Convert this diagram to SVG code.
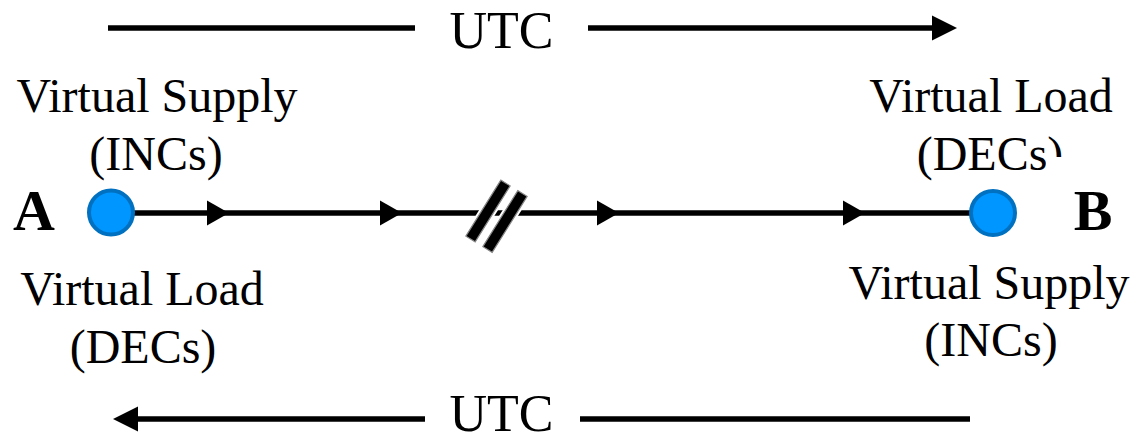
<svg xmlns="http://www.w3.org/2000/svg" xmlns:xlink="http://www.w3.org/1999/xlink" width="1137" height="435" viewBox="0 0 1137 435">
<style>
.lbl{font-family:"Liberation Serif","Times New Roman",serif;font-size:48px;fill:#000;text-anchor:middle}
.utc{font-family:"Liberation Serif","Times New Roman",serif;font-size:52px;fill:#000;text-anchor:middle}
.end{font-family:"Liberation Serif","Times New Roman",serif;font-size:58px;font-weight:bold;fill:#000;text-anchor:middle}
.ln{stroke:#000;stroke-width:5.5;fill:none}
.node{fill:#0096FF;stroke:#0070C0;stroke-width:4}
.ah{fill:#000}
</style>
<defs>
<path id="ah" d="M0,-12.5 L22,0 L0,12.5 Z"/>
<clipPath id="decclip">
<rect x="0" y="0" width="1137" height="157"/>
<rect x="0" y="0" width="1046" height="435"/>
</clipPath>
</defs>
<g id="connectors">
<line class="ln" x1="111" y1="213" x2="993" y2="213"/>
<use xlink:href="#ah" class="ah" transform="translate(207,213)"/>
<use xlink:href="#ah" class="ah" transform="translate(380,213)"/>
<use xlink:href="#ah" class="ah" transform="translate(597,213)"/>
<use xlink:href="#ah" class="ah" transform="translate(843,213)"/>
<g id="break">
<rect x="-5.5" y="-33" width="11" height="66" fill="#fff" stroke="#fff" stroke-width="5" transform="translate(488,211) rotate(32)"/>
<rect x="-5.5" y="-33" width="11" height="66" fill="#fff" stroke="#fff" stroke-width="5" transform="translate(505,221.5) rotate(32)"/>
<rect x="-5.5" y="-33" width="11" height="66" fill="#000" stroke="#888" stroke-width="1.2" transform="translate(488,211) rotate(32)"/>
<rect x="-5.5" y="-33" width="11" height="66" fill="#000" stroke="#888" stroke-width="1.2" transform="translate(505,221.5) rotate(32)"/>
</g>
<g id="utc-top">
<line class="ln" x1="108" y1="28" x2="415" y2="28"/>
<line class="ln" x1="588" y1="28" x2="934" y2="28"/>
<path class="ah" d="M932,15.5 L957,28 L932,40.5 Z"/>
<text class="utc" x="501.5" y="48">UTC</text>
</g>
<g id="utc-bottom">
<line class="ln" x1="970" y1="419" x2="580" y2="419"/>
<line class="ln" x1="425" y1="419" x2="136" y2="419"/>
<path class="ah" d="M138,406.5 L113,419 L138,431.5 Z"/>
<text class="utc" x="501.5" y="431">UTC</text>
</g>
</g>
<g id="nodeA">
<circle class="node" cx="111" cy="212.5" r="22"/>
<text class="end" x="34" y="230">A</text>
<text class="lbl" x="157" y="112">Virtual Supply</text>
<text class="lbl" x="156" y="170">(INCs)</text>
<text class="lbl" x="142" y="305">Virtual Load</text>
<text class="lbl" x="143" y="363">(DECs)</text>
</g>
<g id="nodeB">
<circle class="node" cx="993" cy="213" r="22"/>
<text class="end" x="1093" y="230">B</text>
<text class="lbl" x="991" y="112">Virtual Load</text>
<text class="lbl" x="990" y="170" clip-path="url(#decclip)">(DECs)</text>
<text class="lbl" x="989" y="299">Virtual Supply</text>
<text class="lbl" x="991" y="356">(INCs)</text>
</g>
</svg>
